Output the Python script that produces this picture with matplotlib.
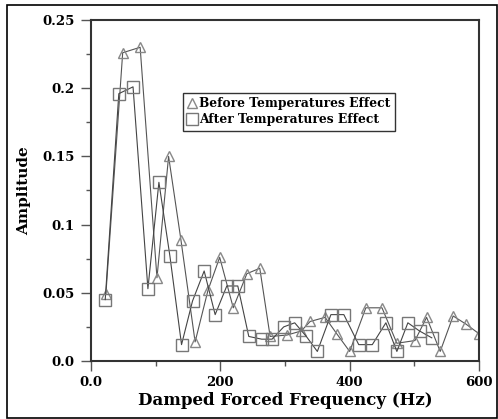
import numpy as np
import matplotlib
matplotlib.use('Agg')
import matplotlib.pyplot as plt
from matplotlib.patches import Rectangle
from matplotlib.ticker import FixedLocator, MultipleLocator

# Before temperatures effect (triangles)
freq_before = [23, 49, 76, 102, 120, 139, 161, 181, 199, 220, 241, 261, 277, 303, 325,
               339, 362, 380, 400, 425, 450, 473, 501, 519, 540, 560, 580, 600]
amp_before = [0.049, 0.226, 0.230, 0.061, 0.150, 0.089, 0.014, 0.052, 0.076, 0.039, 0.064,
              0.068, 0.018, 0.019, 0.022, 0.029, 0.032, 0.020, 0.007, 0.039, 0.039, 0.013,
              0.015, 0.032, 0.007, 0.033, 0.027, 0.020]

# After temperatures effect (squares)
freq_after = [22, 43, 65, 88, 105, 122, 140, 157, 175, 192, 210, 227, 244, 264, 280, 298,
              315, 333, 350, 371, 391, 414, 435, 456, 473, 490, 508, 527]
amp_after = [0.045, 0.196, 0.201, 0.053, 0.131, 0.077, 0.012, 0.044, 0.066, 0.034, 0.055,
             0.055, 0.018, 0.016, 0.016, 0.025, 0.028, 0.018, 0.007, 0.034, 0.034, 0.012,
             0.012, 0.028, 0.007, 0.028, 0.022, 0.017]

x_ticks = [0, 200, 400, 600]
x_tick_labels = ['0.0', '200', '400', '600']
y_ticks = [0, 0.05, 0.1, 0.15, 0.2, 0.25]
y_tick_labels = ['0.0', '0.05', '0.1', '0.15', '0.2', '0.25']

plt.rcParams['font.family'] = ['DejaVu Serif']
plt.rcParams['font.weight'] = 'bold'

fig = plt.figure(figsize=(4.98, 4.19), dpi=100)
ax = fig.add_axes([91 / 498, 1 - 361 / 419, 388 / 498, 341 / 419])

ax.plot(freq_before, amp_before, color='#555555', linewidth=0.8, marker='^',
        markersize=7, markerfacecolor='none', markeredgecolor='#888888',
        markeredgewidth=1.0, label='Before Temperatures Effect')
ax.plot(freq_after, amp_after, color='#444444', linewidth=0.8, marker='s',
        markersize=8, markerfacecolor='none', markeredgecolor='#777777',
        markeredgewidth=1.0, label='After Temperatures Effect')

ax.set_xlim(0, 600)
ax.set_ylim(0, 0.25)
ax.xaxis.set_major_locator(FixedLocator(x_ticks))
ax.set_xticklabels(x_tick_labels)
ax.xaxis.set_minor_locator(MultipleLocator(100))
ax.yaxis.set_major_locator(FixedLocator(y_ticks))
ax.set_yticklabels(y_tick_labels)
ax.yaxis.set_minor_locator(MultipleLocator(0.025))

ax.tick_params(which='both', direction='out', colors='#555555', labelcolor='black',
               labelsize=9.5)
ax.tick_params(which='major', length=7, width=1)
ax.tick_params(which='minor', length=3.5, width=1)
ax.tick_params(axis='x', pad=4)
ax.tick_params(axis='y', pad=5)

for s in ax.spines.values():
    s.set_linewidth(1.5)
    s.set_color('#333333')

ax.set_xlabel('Damped Forced Frequency (Hz)', fontsize=12, fontweight='bold', labelpad=2)
ax.set_ylabel('Amplitude', fontsize=11, fontweight='bold', labelpad=8)

leg = ax.legend(loc='upper left', bbox_to_anchor=(0.237, 0.786), fontsize=8.8,
                frameon=True, fancybox=False, handlelength=0.7, handletextpad=0.3,
                borderpad=0.35, labelspacing=0.25, borderaxespad=0)
leg.get_frame().set_edgecolor('black')
leg.get_frame().set_linewidth(1.0)
for h in leg.legend_handles:
    h.set_linestyle('none')

fig.patches.append(Rectangle((7 / 498, 1 / 419), 490 / 498, 413 / 419, fill=False,
                             edgecolor='black', linewidth=1.2, transform=fig.transFigure))

fig.savefig('out.png', dpi=100)
